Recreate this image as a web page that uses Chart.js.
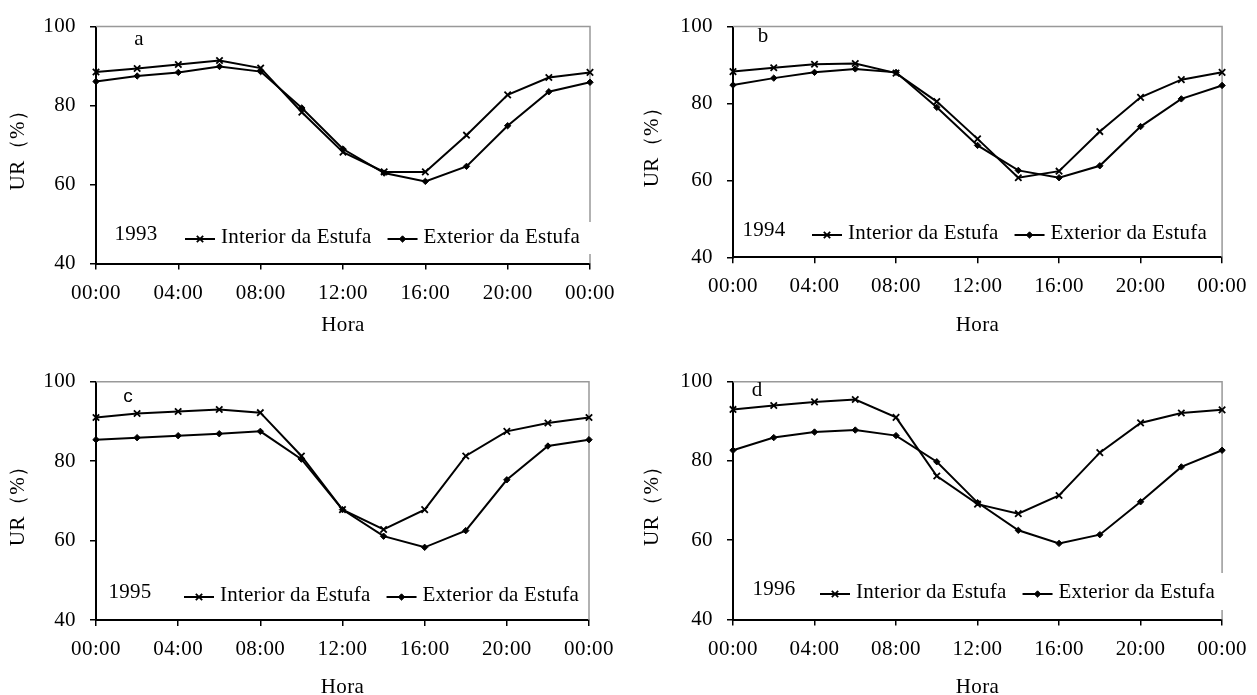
<!DOCTYPE html>
<html>
<head>
<meta charset="utf-8">
<script src="https://cdn.jsdelivr.net/npm/chart.js@4.4.1/dist/chart.umd.min.js"></script>
<style>
  html, body { margin: 0; padding: 0; background: #fff; overflow: hidden; width: 1257px; height: 695px; }
  canvas { position: absolute; }
</style>
</head>
<body>
<canvas id="c0"></canvas>
<canvas id="c1"></canvas>
<canvas id="c2"></canvas>
<canvas id="c3"></canvas>
<script>
// hours of the day (24 = midnight of next day)
const hours = [0, 2, 4, 6, 8, 10, 12, 14, 16, 18, 20, 22, 24];
const xTicks = [0, 4, 8, 12, 16, 20, 24];
const yTicks = [40, 60, 80, 100];
const seriesNames = ['Interior da Estufa', 'Exterior da Estufa'];
const years = ['1993', '1994', '1995', '1996'];
const panelLetters = ['a', 'b', 'c', 'd'];

const interior1993 = [88.5, 89.4, 90.4, 91.4, 89.5, 78.3, 68.2, 63.2, 63.2, 72.5, 82.7, 87.1, 88.4];
const exterior1993 = [86.1, 87.5, 88.4, 89.9, 88.6, 79.4, 69.0, 62.9, 60.8, 64.6, 74.9, 83.5, 85.9];
const interior1994 = [88.3, 89.3, 90.2, 90.4, 87.9, 80.5, 70.8, 60.7, 62.4, 72.7, 81.6, 86.2, 88.1];
const exterior1994 = [84.8, 86.6, 88.1, 89.0, 88.1, 79.0, 69.1, 62.6, 60.7, 63.8, 74.0, 81.2, 84.7];
const interior1995 = [91.0, 92.0, 92.5, 93.0, 92.2, 81.3, 67.8, 62.8, 67.8, 81.3, 87.5, 89.6, 91.0];
const exterior1995 = [85.4, 85.9, 86.4, 86.9, 87.5, 80.5, 67.8, 61.1, 58.3, 62.5, 75.3, 83.8, 85.4];
const interior1996 = [93.0, 94.0, 94.9, 95.5, 91.0, 76.2, 69.1, 66.7, 71.3, 82.1, 89.6, 92.1, 92.9];
const exterior1996 = [82.7, 85.9, 87.3, 87.8, 86.4, 79.8, 69.5, 62.5, 59.2, 61.4, 69.7, 78.5, 82.7];

const interiorByYear = [interior1993, interior1994, interior1995, interior1996];
const exteriorByYear = [exterior1993, exterior1994, exterior1995, exterior1996];

// page layout of each panel (pixels)
const layouts = [
  { canvas: [0, 0, 628, 345],   plot: [96, 20.7, 590, 263.5],  titleX: 18,  horaY: 325,
    letter: [139, 39, false], legend: { yearX: 136, x: 185, y: 237, box: [180, 222, 593, 254] } },
  { canvas: [628, 0, 629, 345], plot: [733, 20.7, 1225, 257.3], titleX: 652, horaY: 325,
    letter: [763, 36, false], legend: { yearX: 764, x: 812, y: 233, box: null } },
  { canvas: [0, 340, 628, 360], plot: [96, 381.7, 589, 620],   titleX: 18,  horaY: 687,
    letter: [128, 397, true], legend: { yearX: 130, x: 184, y: 595, box: null } },
  { canvas: [628, 340, 629, 360], plot: [733, 381.7, 1226, 619.5], titleX: 652, horaY: 688,
    letter: [757, 390, false], legend: { yearX: 774, x: 820, y: 592, box: [815, 573, 1233, 610] } }
];

const FONT = 'Liberation Serif';
const font = { family: FONT, size: 21, lineHeight: 1.2 };
const HALF_LH = 12.6;

const pointStyles = [
  { pointStyle: 'crossRot', radius: 4.5, borderWidth: 1.8 },
  { pointStyle: 'rectRot', radius: 3.2, borderWidth: 1 }
];

// gray top/right frame, legend, year and panel letter
const decorPlugin = {
  id: 'decor',
  beforeDraw(chart) {
    chart.ctx.letterSpacing = '0.4px';
  },
  beforeDatasetsDraw(chart, args, opts) {
    const { ctx, chartArea: a } = chart;
    ctx.save();
    ctx.strokeStyle = '#999';
    ctx.lineWidth = 1.5;
    ctx.beginPath();
    ctx.moveTo(a.left, a.top);
    ctx.lineTo(a.right, a.top);
    ctx.lineTo(a.right, a.bottom);
    ctx.stroke();
    ctx.restore();
  },
  afterDatasetsDraw(chart, args, opts) {
    const { ctx } = chart;
    const L = opts.layout;
    const ox = L.canvas[0], oy = L.canvas[1];
    const lg = L.legend;
    ctx.save();
    ctx.letterSpacing = '0.2px';
    if (lg.box) {
      ctx.fillStyle = '#fff';
      ctx.fillRect(lg.box[0] - ox, lg.box[1] - oy, lg.box[2] - lg.box[0], lg.box[3] - lg.box[1]);
    }
    ctx.fillStyle = '#000';
    ctx.strokeStyle = '#000';
    ctx.textBaseline = 'middle';
    ctx.font = '21px "' + FONT + '"';
    // year
    ctx.textAlign = 'center';
    ctx.fillText(opts.year, lg.yearX - ox, lg.y - 3 - oy);
    // legend items
    ctx.textAlign = 'left';
    let x = lg.x - ox;
    const y = lg.y - oy;
    chart.data.datasets.forEach((ds, i) => {
      ctx.lineWidth = 2;
      ctx.beginPath();
      ctx.moveTo(x, y + 2);
      ctx.lineTo(x + 30, y + 2);
      ctx.stroke();
      ctx.lineWidth = pointStyles[i].borderWidth;
      Chart.helpers.drawPoint(ctx, { pointStyle: pointStyles[i].pointStyle, radius: pointStyles[i].radius, rotation: 0, borderWidth: pointStyles[i].borderWidth }, x + 15, y + 2);
      ctx.fillText(ds.label, x + 36, y);
      x += 36 + ctx.measureText(ds.label).width + 16;
    });
    // panel letter
    const lt = L.letter;
    ctx.textAlign = 'center';
    ctx.font = lt[2] ? '19px "Liberation Sans"' : '21px "' + FONT + '"';
    ctx.fillText(opts.letter, lt[0] - ox, lt[1] - oy);
    ctx.restore();
  }
};

function makeChart(idx) {
  const L = layouts[idx];
  const [cl, ct, cw, ch] = L.canvas;
  const [pl, pt, pr, pb] = L.plot;
  const cv = document.getElementById('c' + idx);
  cv.width = cw; cv.height = ch;
  cv.style.left = cl + 'px'; cv.style.top = ct + 'px';
  cv.style.width = cw + 'px'; cv.style.height = ch + 'px';

  const padLeft = Math.max(0, L.titleX - cl - HALF_LH - 5);
  const yWidth = pl - cl - padLeft;
  let scaleBottom = L.horaY + HALF_LH - ct;
  if (scaleBottom > ch) scaleBottom = ch;
  const xHeight = scaleBottom - (pb - ct);
  const padBottom = ch - scaleBottom;

  const datasets = [interiorByYear[idx], exteriorByYear[idx]].map((vals, i) => ({
    label: seriesNames[i],
    data: hours.map((h, k) => ({ x: h, y: vals[k] })),
    borderColor: '#000',
    backgroundColor: '#000',
    borderWidth: 2,
    pointStyle: pointStyles[i].pointStyle,
    pointRadius: pointStyles[i].radius,
    pointBorderWidth: pointStyles[i].borderWidth,
    pointBackgroundColor: '#000',
    pointBorderColor: '#000',
    tension: 0,
    clip: false
  }));

  return new Chart(cv, {
    type: 'line',
    data: { datasets },
    plugins: [decorPlugin],
    options: {
      responsive: false,
      animation: false,
      devicePixelRatio: 1,
      layout: { padding: { left: padLeft, top: pt - ct, right: cl + cw - pr, bottom: padBottom } },
      plugins: {
        legend: { display: false },
        tooltip: { enabled: false },
        decor: { layout: L, year: years[idx], letter: panelLetters[idx] }
      },
      scales: {
        x: {
          type: 'linear', min: 0, max: 24,
          afterBuildTicks: s => { s.ticks = xTicks.map(v => ({ value: v })); },
          afterFit: s => { s.height = xHeight; },
          ticks: {
            callback: v => String(v % 24).padStart(2, '0') + ':00',
            font, color: '#000', padding: 11, maxRotation: 0, autoSkip: false
          },
          grid: { drawOnChartArea: false, tickLength: 6, color: '#000', lineWidth: 1.5 },
          border: { color: '#000', width: 2 },
          title: { display: true, text: 'Hora', font, color: '#000', padding: { top: 0, bottom: 0 } }
        },
        y: {
          min: 40, max: 100,
          afterBuildTicks: s => { s.ticks = yTicks.map(v => ({ value: v })); },
          afterFit: s => { s.width = yWidth; },
          ticks: { font, color: '#000', padding: 14 },
          grid: { drawOnChartArea: false, tickLength: 6, color: '#000', lineWidth: 1.5 },
          border: { color: '#000', width: 2 },
          title: { display: true, text: 'UR（%）', font, color: '#000', padding: { top: 5, bottom: 0 } }
        }
      }
    }
  });
}

[0, 1, 2, 3].forEach(makeChart);
</script>
</body>
</html>
